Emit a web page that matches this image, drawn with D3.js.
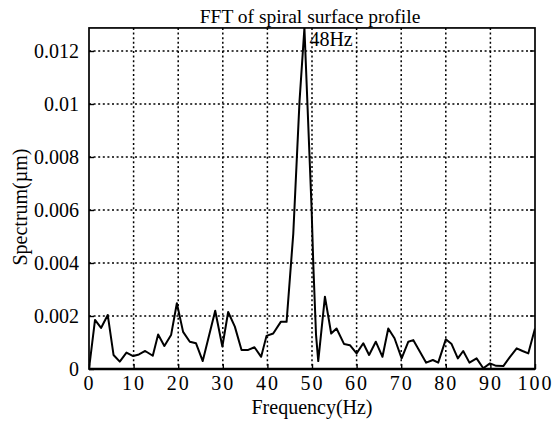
<!DOCTYPE html>
<html><head><meta charset="utf-8">
<script src="https://cdn.jsdelivr.net/npm/d3@7"></script>
<style>body{margin:0;background:#fff}svg{display:block}svg text{font-family:'Liberation Serif','Times New Roman',serif !important;fill:#000}</style>
</head><body>
<svg id="c" width="553" height="425"></svg>
<script>
const freq = [0,1.35,2.7,4.2,5.5,6.9,8.4,9.9,11.2,12.6,14.3,15.5,16.9,18.4,19.7,21.1,22.6,24,25.5,28.3,29.9,31.2,32.7,34.2,35.7,37.1,38.6,39.8,41.3,43.0,44.3,45.8,47.2,48.3,49.9,50.3,50.9,51.4,52.9,54.3,55.5,57.2,58.5,60,61.5,62.8,64.3,65.8,67.1,68.5,70.1,71.6,72.7,74.2,75.6,77.1,78.3,80,81.3,82.7,83.9,85.3,86.9,88.4,89.9,91.3,92.9,94.4,95.9,97.2,98.5,100];
const spectrum = [0,0.00185,0.00155,0.00204,0.00053,0.00028,0.00062,0.00049,0.00055,0.00068,0.0005,0.0013,0.00087,0.00128,0.00248,0.0014,0.00103,0.00097,0.0003,0.0022,0.00085,0.00215,0.0016,0.00072,0.00072,0.00082,0.00046,0.00125,0.00134,0.00178,0.00178,0.0051,0.0101,0.01287,0.0061,0.0039,0.0013,0.0003,0.00273,0.00134,0.00153,0.00094,0.0009,0.00059,0.00097,0.00053,0.00103,0.00046,0.00153,0.00116,0.0004,0.00103,0.00109,0.00065,0.00024,0.00034,0.00024,0.00112,0.00094,0.0004,0.00068,0.00024,0.0004,0.00003,0.00021,0.00012,0.00011,0.00046,0.00078,0.00068,0.00059,0.00153];
const xTicks = [0,10,20,30,40,50,60,70,80,90,100];
const yTicks = [0,0.002,0.004,0.006,0.008,0.01,0.012];
const yTickLabels = ["0","0.002","0.004","0.006","0.008","0.01","0.012"];
const yMax = 0.01287;
const titleText = "FFT of spiral surface profile";
const xLabel = "Frequency(Hz)";
const yLabel = "Spectrum(\u00b5m)";
const peakLabel = "48Hz";

const svg = d3.select("#c");
const x = d3.scaleLinear().domain([0,100]).range([89,535]);
const y = d3.scaleLinear().domain([0,0.012]).range([369,51]);
const L = x(0), R = x(100), T = y(yMax), B = y(0);

// grid
const grid = svg.append("g").attr("stroke","#000").attr("stroke-width",1.5).attr("stroke-dasharray","2,2.6");
grid.selectAll("line.v").data(xTicks.filter(d=>d>0&&d<100)).enter().append("line")
  .attr("x1",d=>x(d)).attr("x2",d=>x(d)).attr("y1",T).attr("y2",B);
grid.selectAll("line.h").data(yTicks.filter(d=>d>0)).enter().append("line")
  .attr("y1",d=>y(d)).attr("y2",d=>y(d)).attr("x1",L).attr("x2",R);

// clip
svg.append("clipPath").attr("id","pc").append("rect").attr("x",L).attr("y",T).attr("width",R-L).attr("height",B-T);

// line
svg.append("path").datum(freq.map((f,i)=>[f,spectrum[i]]))
  .attr("clip-path","url(#pc)")
  .attr("fill","none").attr("stroke","#000").attr("stroke-width",2).attr("stroke-linejoin","round")
  .attr("d",d3.line().x(d=>x(d[0])).y(d=>y(d[1])));

// frame
svg.append("rect").attr("x",L).attr("y",T).attr("width",R-L).attr("height",B-T)
  .attr("fill","none").attr("stroke","#000").attr("stroke-width",1.7);
svg.append("line").attr("x1",L).attr("x2",R).attr("y1",B).attr("y2",B).attr("stroke","#000").attr("stroke-width",2.5);

// axes (inward ticks)
const xAxis = svg.append("g").attr("transform",`translate(0,${B})`)
  .call(d3.axisBottom(x).tickValues(xTicks).tickSize(-5).tickPadding(7).tickFormat(d3.format("d")));
const yAxis = svg.append("g").attr("transform",`translate(${L},0)`)
  .call(d3.axisLeft(y).tickValues(yTicks).tickSize(-5).tickPadding(10).tickFormat((d,i)=>yTickLabels[i]));
[xAxis,yAxis].forEach(a=>{
  a.attr("font-family",null).attr("font-size",20);
  a.select(".domain").remove();
  a.selectAll(".tick line").attr("stroke","#000").attr("stroke-width",1.4);
  a.selectAll("text").style("font-size","20px");
});
xAxis.selectAll("text").attr("letter-spacing","2px");

// right ticks
svg.append("g").selectAll("line").data(yTicks).enter().append("line")
  .attr("x1",R).attr("x2",R-5).attr("y1",d=>y(d)).attr("y2",d=>y(d)).attr("stroke","#000").attr("stroke-width",1.4);

// texts
svg.append("text").attr("x",310).attr("y",23).attr("text-anchor","middle")
  .style("font-size","19.5px").text(titleText);
svg.append("text").attr("x",(L+R)/2).attr("y",414).attr("text-anchor","middle")
  .style("font-size","20px").text(xLabel);
svg.append("text").attr("transform","translate(27,207) rotate(-90)").attr("text-anchor","middle")
  .style("font-size","20px").text(yLabel);
svg.append("text").attr("x",x(48.3)+5).attr("y",46)
  .style("font-size","20px").text(peakLabel);
</script>
</body></html>
